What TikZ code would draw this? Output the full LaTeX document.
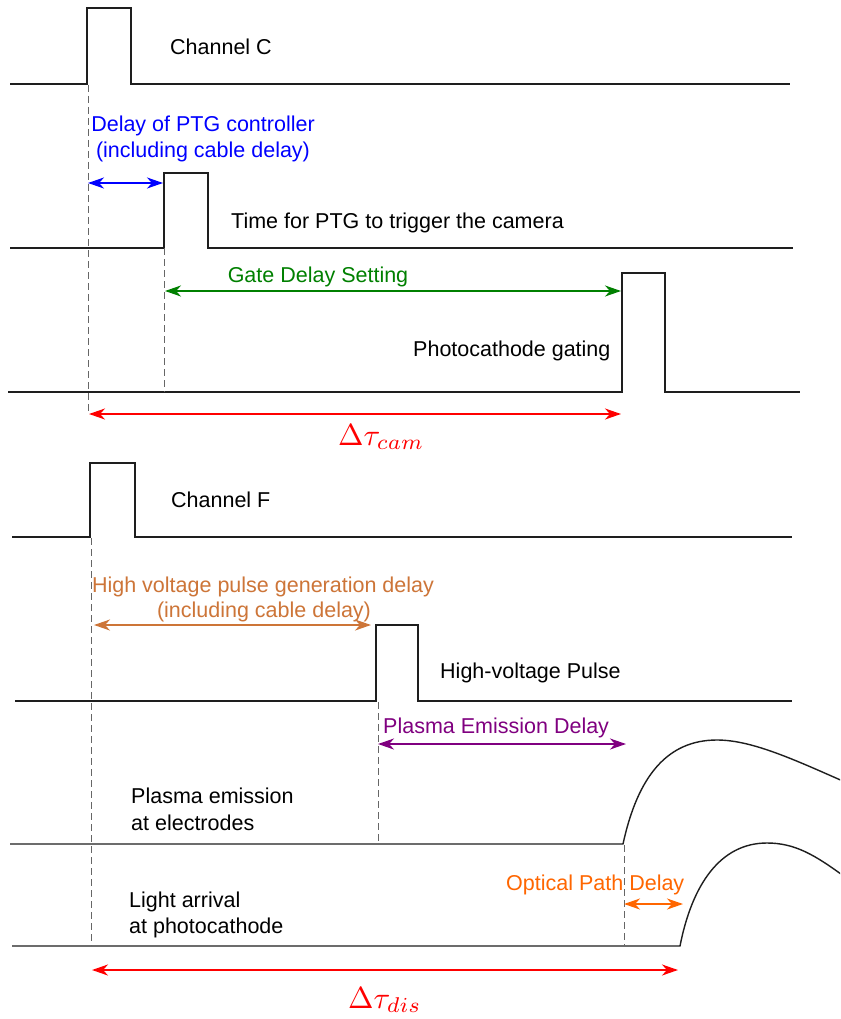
\documentclass[tikz,border=0pt]{standalone}
\usepackage{graphicx}
\usepackage{fontspec}
\setmainfont{Liberation Sans}
\usetikzlibrary{arrows.meta}
\definecolor{cblue}{RGB}{0,0,255}
\definecolor{cgreen}{RGB}{0,128,0}
\definecolor{cbrown}{RGB}{205,117,56}
\definecolor{cpurple}{RGB}{128,0,128}
\definecolor{corange}{RGB}{255,102,0}
\definecolor{cred}{RGB}{255,0,0}
\definecolor{cline}{RGB}{30,30,30}
\begin{document}
\begin{tikzpicture}[x=1pt,y=-1pt,
  sig/.style={line width=1.4pt, draw=cline, line join=miter},
  guide/.style={line width=0.8pt, draw=black!60, dash pattern=on 7pt off 4pt},
  dimarrow/.style={line width=2pt, {Stealth[length=16pt,width=11pt,inset=5pt]}-{Stealth[length=16pt,width=11pt,inset=5pt]}},
  lbl/.style={font=\fontsize{21.5}{26}\selectfont, inner sep=0pt, anchor=base west},
  clbl/.style={font=\fontsize{21.5}{26}\selectfont, inner sep=0pt, anchor=base},
  mlbl/.style={inner sep=0pt, anchor=base west, text=cred}
]
\useasboundingbox (0,0) rectangle (840,1019);
\fill[white] (0,0) rectangle (840,1019);

% ---------- waveforms ----------
\draw[sig] (10,84) -- (87,84) -- (87,8) -- (131,8) -- (131,84) -- (790,84);
\draw[sig] (10,248) -- (164,248) -- (164,173) -- (208,173) -- (208,248) -- (793,248);
\draw[sig] (8,392) -- (622,392) -- (622,273) -- (665,273) -- (665,392) -- (800,392);
\draw[sig] (12,537) -- (90,537) -- (90,463) -- (135,463) -- (135,537) -- (792,537);
\draw[sig] (15,701) -- (376,701) -- (376,625) -- (418,625) -- (418,701) -- (792,701);
\begin{scope}
\clip (0,0) rectangle (840,1019);
\draw[sig] (10,844) -- (623,844)
  .. controls (638,775) and (668,740) .. (717,740)
  .. controls (752,740) and (795,760) .. (845,782);
\draw[sig] (12,946) -- (680,946)
  .. controls (692,885) and (720,843) .. (767,843)
  .. controls (795,843) and (815,855) .. (845,877);
\end{scope}

% ---------- guide lines ----------
\coordinate (gA1) at (88,85);   \coordinate (gA2) at (88,414);
\coordinate (gB1) at (164,248); \coordinate (gB2) at (164,392);
\coordinate (gC1) at (91,538);  \coordinate (gC2) at (91,946);
\coordinate (gD1) at (378,702); \coordinate (gD2) at (378,844);
\coordinate (gE1) at (624,845); \coordinate (gE2) at (624,946);
\draw[guide] (gA1) -- (gA2);
\draw[guide] (gB1) -- (gB2);
\draw[guide] (gC1) -- (gC2);
\draw[guide] (gD1) -- (gD2);
\draw[guide] (gE1) -- (gE2);

% ---------- labels ----------
\node[lbl] (chC) at (170,55) {Channel C};
\node[clbl, text=cblue] (ptg1) at (203,132) {Delay of PTG controller};
\node[clbl, text=cblue] (ptg2) at (203,158) {(including cable delay)};
\node[lbl] (trig) at (231,228) {Time for PTG to trigger the camera};
\node[clbl, text=cgreen] (gate) at (318,282) {Gate Delay Setting};
\node[lbl] (photo) at (413,356) {Photocathode gating};
\node[mlbl] (dcam) at (338,445) {\scalebox{3.05}{$\Delta\tau_{cam}$}};
\node[lbl] (chF) at (171,507) {Channel F};
\node[clbl, text=cbrown] (hv1) at (263,592) {High voltage pulse generation delay};
\node[clbl, text=cbrown] (hv2) at (264,617) {(including cable delay)};
\node[lbl] (hvp) at (440,678) {High-voltage Pulse};
\node[lbl, text=cpurple] (ped) at (383,733) {Plasma Emission Delay};
\node[lbl] (pe1) at (131,803) {Plasma emission};
\node[lbl] (pe2) at (131,830) {at electrodes};
\node[lbl, text=corange] (opd) at (506,890) {Optical Path Delay};
\node[lbl] (la1) at (129,907) {Light arrival};
\node[lbl] (la2) at (129,933) {at photocathode};
\node[mlbl] (ddis) at (348,1008) {\scalebox{3.05}{$\Delta\tau_{dis}$}};

% ---------- dimension arrows ----------
\coordinate (a1) at (88,183);  \coordinate (a2) at (163,183);
\coordinate (b1) at (165,291); \coordinate (b2) at (621,291);
\coordinate (c1) at (89,414);  \coordinate (c2) at (621,414);
\coordinate (d1) at (94,625);  \coordinate (d2) at (371,625);
\coordinate (e1) at (378,744); \coordinate (e2) at (626,744);
\coordinate (f1) at (624,904); \coordinate (f2) at (683,904);
\coordinate (g1) at (92,970);  \coordinate (g2) at (678,970);
\draw[dimarrow, cblue] (a1) -- (a2);
\draw[dimarrow, cgreen] (b1) -- (b2);
\draw[dimarrow, cred] (c1) -- (c2);
\draw[dimarrow, cbrown] (d1) -- (d2);
\draw[dimarrow, cpurple] (e1) -- (e2);
\draw[dimarrow, corange] (f1) -- (f2);
\draw[dimarrow, cred] (g1) -- (g2);
\end{tikzpicture}
\end{document}
